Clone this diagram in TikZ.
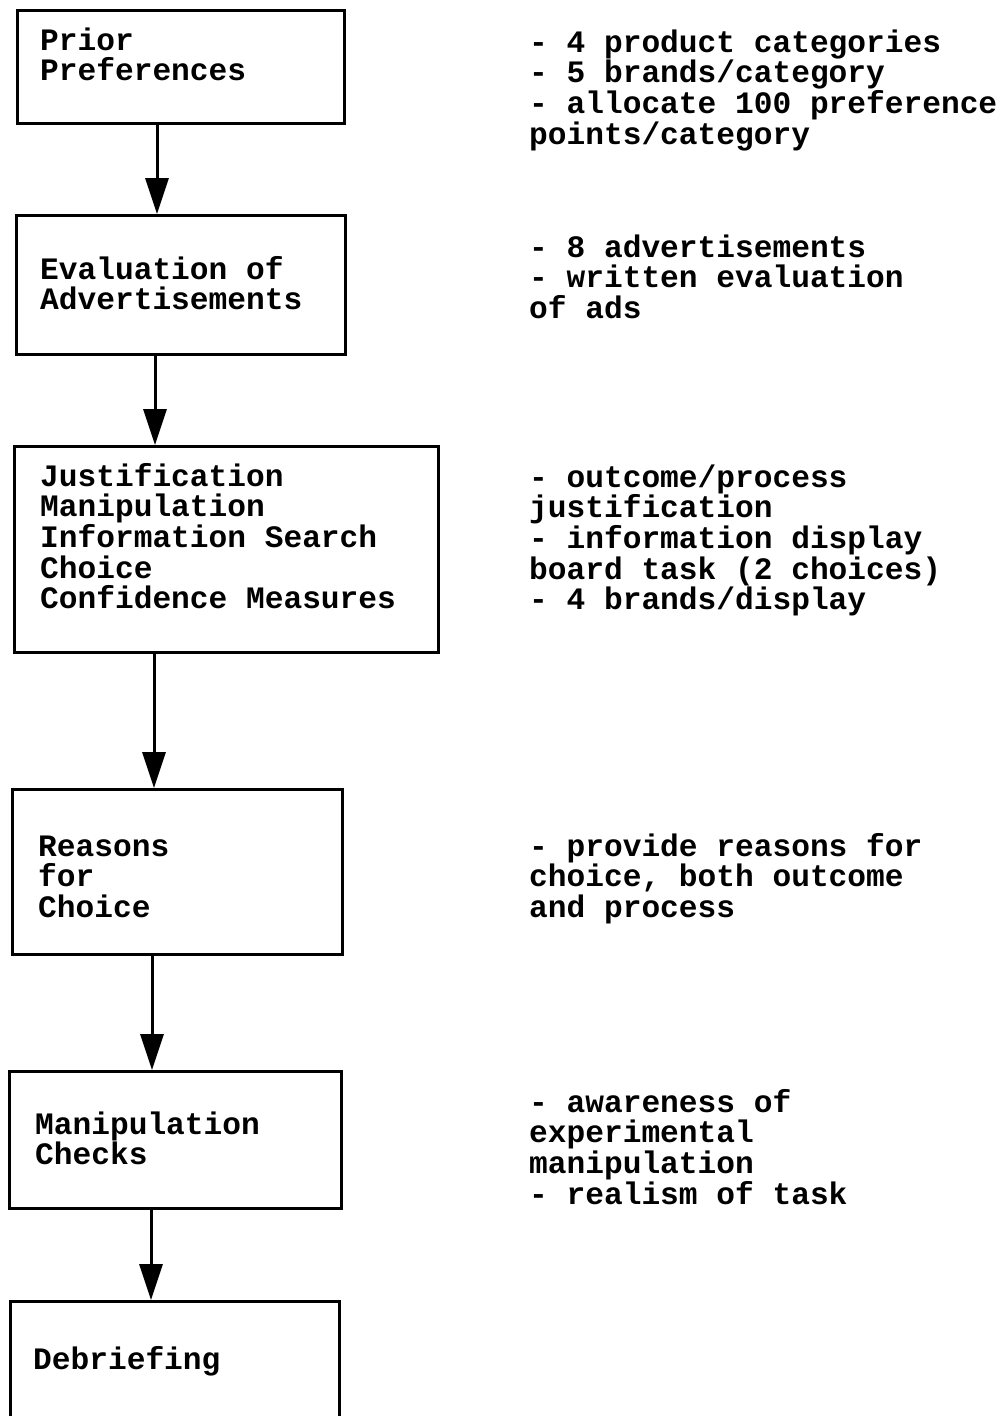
\documentclass[tikz,border=0pt]{standalone}
\usepackage{fontspec}
\setmonofont{Liberation Mono}
\usetikzlibrary{arrows.meta}
\begin{document}
\begin{tikzpicture}[x=1pt,y=-1pt,
  stagebox/.style={draw,line width=3pt,inner sep=0pt,anchor=north west},
  label/.style={anchor=base west,inner sep=0pt,align=left,
    font=\ttfamily\bfseries\fontsize{31.2}{30.7}\selectfont},
  flow/.style={line width=3pt,-{Triangle[length=36pt,width=23pt]}}]
\useasboundingbox (0,0) rectangle (1005,1416);

% stage boxes
\node[stagebox,minimum width=327pt,minimum height=113pt] (b1) at (16,9) {};
\node[stagebox,minimum width=329pt,minimum height=139pt] (b2) at (15,214) {};
\node[stagebox,minimum width=424pt,minimum height=206pt] (b3) at (13,445) {};
\node[stagebox,minimum width=330pt,minimum height=165pt] (b4) at (11,788) {};
\node[stagebox,minimum width=332pt,minimum height=137pt] (b5) at (8,1070) {};
\node[stagebox,minimum width=329pt,minimum height=140pt] (b6) at (9,1300) {};

% stage titles (anchored at the baseline of their last line)
\node[label] (t1) at (40,80.7) {Prior\\Preferences};
\node[label] (t2) at (40,309.7) {Evaluation of\\Advertisements};
\node[label] (t3) at (40,608.8) {Justification\\Manipulation\\Information Search\\Choice\\Confidence Measures};
\node[label] (t4) at (38,917.4) {Reasons\\for\\Choice};
\node[label] (t5) at (35,1164.7) {Manipulation\\Checks};
\node[label] (t6) at (33,1369) {Debriefing};

% notes beside each stage
\node[label] (n1) at (529,144.1) {- 4 product categories\\- 5 brands/category\\- allocate 100 preference\\points/category};
\node[label] (n2) at (529,318.4) {- 8 advertisements\\- written evaluation\\of ads};
\node[label] (n3) at (529,609.8) {- outcome/process\\justification\\- information display\\board task (2 choices)\\- 4 brands/display};
\node[label] (n4) at (529,917.4) {- provide reasons for\\choice, both outcome\\and process};
\node[label] (n5) at (529,1204.1) {- awareness of\\experimental\\manipulation\\- realism of task};

% arrow columns
\coordinate (c1) at (157,0);
\coordinate (c2) at (155,0);
\coordinate (c3) at (154,0);
\coordinate (c4) at (152,0);
\coordinate (c5) at (151,0);

\draw[flow] (b1.south -| c1) -- (b2.north -| c1);
\draw[flow] (b2.south -| c2) -- (b3.north -| c2);
\draw[flow] (b3.south -| c3) -- (b4.north -| c3);
\draw[flow] (b4.south -| c4) -- (b5.north -| c4);
\draw[flow] (b5.south -| c5) -- (b6.north -| c5);
\end{tikzpicture}
\end{document}
